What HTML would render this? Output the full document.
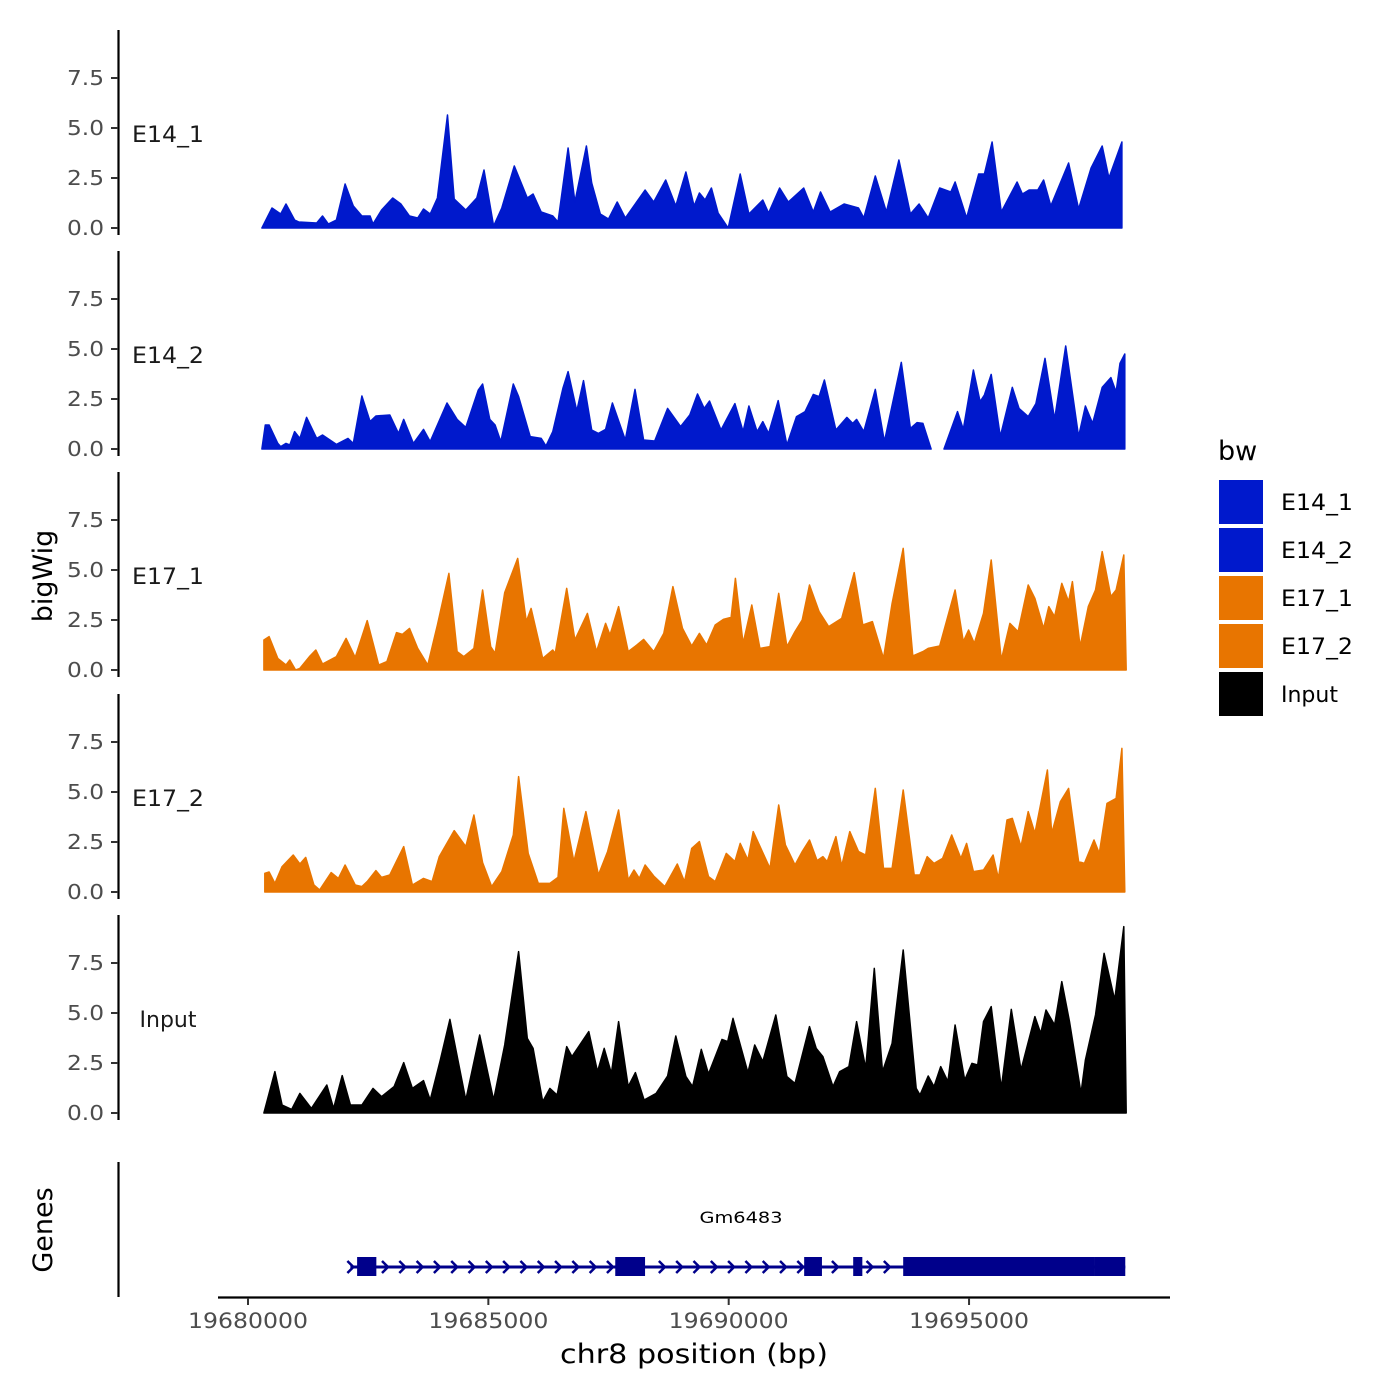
<!DOCTYPE html>
<html><head><meta charset="utf-8"><style>
html,body{margin:0;padding:0;background:#fff;}
svg{display:block;font-family:"DejaVu Sans","Liberation Sans",sans-serif;}
</style></head><body>
<svg id="chart" width="1400" height="1400" viewBox="0 0 1400 1400" xmlns="http://www.w3.org/2000/svg">
<rect width="1400" height="1400" fill="#fff"/>
<g id="tracks"></g>
<g id="genes"></g>
<g id="axes"></g>
<g id="legend"></g>
</svg>
<script>
const NS="http://www.w3.org/2000/svg";
const XMIN=19679376; // left edge of x axis in bp
const KB0=19680000;  // origin for kb position arrays
const trackNames=["E14_1","E14_2","E17_1","E17_2","Input"];
const trackColors=["#0019CC","#0019CC","#E87500","#E87500","#000000"];
const yTicks=[0,2.5,5,7.5];
const yTickLabels=["0.0","2.5","5.0","7.5"];
const xTicks=[19680000,19685000,19690000,19695000];
const xTickLabels=["19680000","19685000","19690000","19695000"];
const legendLabels=["E14_1","E14_2","E17_1","E17_2","Input"];
// positions in kb offset from KB0, values = coverage
const pos1=[0.29,0.50,0.68,0.79,0.97,1.06,1.43,1.55,1.67,1.84,2.02,2.19,2.37,2.54,2.60,2.78,3.01,3.18,3.36,3.53,3.65,3.79,3.94,4.15,4.29,4.53,4.76,4.91,5.11,5.28,5.54,5.81,5.93,6.10,6.34,6.45,6.66,6.80,7.04,7.15,7.33,7.50,7.68,7.85,8.26,8.44,8.69,8.90,9.11,9.28,9.39,9.51,9.64,9.78,9.99,10.24,10.42,10.71,10.83,11.06,11.24,11.56,11.76,11.91,12.11,12.40,12.70,12.81,13.05,13.28,13.54,13.78,13.96,14.15,14.39,14.62,14.71,14.95,15.20,15.32,15.48,15.67,16.00,16.11,16.25,16.43,16.55,16.70,17.07,17.28,17.54,17.77,17.91,18.18];
const val1=[0,1.0,0.7,1.2,0.4,0.3,0.25,0.6,0.2,0.4,2.2,1.1,0.6,0.6,0.2,0.9,1.5,1.2,0.6,0.5,0.95,0.7,1.5,5.65,1.45,0.9,1.5,2.9,0.1,1.0,3.1,1.5,1.7,0.8,0.6,0.3,4.0,1.3,4.1,2.25,0.7,0.45,1.3,0.5,1.9,1.3,2.4,1.1,2.8,1.1,1.75,1.4,2.0,0.75,0,2.7,0.7,1.4,0.75,2.0,1.3,2.0,0.8,1.8,0.8,1.2,1.0,0.5,2.6,0.8,3.4,0.7,1.2,0.5,2.0,1.8,2.3,0.5,2.7,2.7,4.3,0.8,2.3,1.7,1.9,1.9,2.4,1.1,3.25,0.95,3.0,4.1,2.5,4.3];
const pos2=[0.29,0.36,0.44,0.62,0.68,0.79,0.87,0.97,1.08,1.22,1.43,1.55,1.84,2.08,2.19,2.37,2.54,2.66,2.95,3.13,3.24,3.44,3.65,3.79,4.14,4.35,4.53,4.79,4.88,5.03,5.14,5.26,5.52,5.63,5.87,6.10,6.20,6.34,6.55,6.66,6.84,6.98,7.15,7.29,7.44,7.58,7.85,8.05,8.23,8.46,8.73,9.00,9.19,9.35,9.49,9.60,9.84,10.13,10.30,10.42,10.59,10.71,10.83,11.03,11.21,11.41,11.59,11.76,11.88,11.99,12.23,12.46,12.58,12.66,12.81,13.05,13.24,13.59,13.78,13.92,14.04,14.21,14.33,14.48,14.76,14.88,15.09,15.23,15.32,15.46,15.65,15.90,16.04,16.23,16.39,16.58,16.78,17.01,17.28,17.42,17.57,17.77,17.95,18.06,18.14,18.24];
const val2=[0,1.2,1.2,0.28,0.12,0.28,0.2,0.87,0.53,1.58,0.53,0.7,0.23,0.53,0.28,2.65,1.37,1.65,1.7,0.78,1.48,0.28,0.98,0.37,2.3,1.48,1.08,2.95,3.25,1.48,1.2,0.37,3.25,2.62,0.62,0.53,0.15,0.87,3.03,3.87,1.9,3.42,0.95,0.78,0.98,2.3,0.45,2.98,0.45,0.4,2.03,1.12,1.7,2.75,2.03,2.4,0.95,2.27,0.87,2.15,0.87,1.37,0.78,2.42,0.2,1.62,1.87,2.73,2.62,3.45,0.95,1.58,1.28,1.48,0.87,2.98,0.37,4.33,1.03,1.32,1.28,0,null,0,1.87,0.98,3.95,2.37,2.7,3.73,0.62,3.08,2.03,1.62,2.27,4.53,1.48,5.15,0.62,2.15,1.28,3.08,3.57,2.85,4.28,4.75];
const pos3=[0.33,0.33,0.44,0.62,0.79,0.87,0.99,1.08,1.29,1.41,1.55,1.84,2.04,2.23,2.48,2.72,2.89,3.09,3.21,3.36,3.53,3.74,3.94,4.18,4.35,4.49,4.70,4.88,5.05,5.14,5.34,5.61,5.79,5.89,6.13,6.34,6.39,6.63,6.80,7.06,7.25,7.44,7.53,7.71,7.91,8.09,8.23,8.44,8.65,8.84,9.04,9.23,9.39,9.54,9.72,9.89,10.05,10.14,10.30,10.48,10.65,10.86,11.04,11.21,11.38,11.53,11.68,11.88,12.08,12.35,12.61,12.79,12.99,13.22,13.40,13.63,13.83,14.04,14.15,14.39,14.71,14.88,14.99,15.11,15.30,15.46,15.67,15.85,16.02,16.23,16.37,16.55,16.66,16.78,16.93,17.07,17.15,17.31,17.48,17.63,17.77,17.95,18.06,18.22,18.27];
const val3=[0,1.5,1.67,0.58,0.25,0.5,0,0.08,0.7,1.0,0.3,0.67,1.58,0.63,2.47,0.25,0.42,1.87,1.78,2.08,1.08,0.25,2.25,4.83,0.92,0.67,1.08,4.0,1.17,0.83,3.87,5.58,2.42,3.08,0.58,1.0,0.83,4.08,1.5,2.83,0.92,2.33,1.75,3.17,0.92,1.25,1.53,0.92,1.83,4.17,2.08,1.2,1.83,1.25,2.25,2.53,2.63,4.58,1.33,3.25,1.08,1.17,3.83,1.17,1.92,2.5,4.25,2.92,2.17,2.58,4.87,2.25,2.42,0.58,3.33,6.08,0.7,0.92,1.08,1.2,4.0,1.42,2.0,1.33,2.83,5.5,0.5,2.33,1.92,4.25,3.58,2.08,3.17,2.67,4.33,3.42,4.42,1.17,3.17,4.0,5.92,3.67,4.0,5.75,0];
const pos4=[0.35,0.35,0.44,0.56,0.71,0.94,1.08,1.20,1.37,1.49,1.73,1.88,2.02,2.23,2.37,2.48,2.66,2.78,2.95,3.24,3.42,3.65,3.83,3.98,4.29,4.53,4.70,4.88,5.07,5.28,5.52,5.63,5.83,6.04,6.28,6.45,6.57,6.78,7.03,7.29,7.48,7.71,7.91,8.03,8.14,8.26,8.44,8.67,8.93,9.08,9.23,9.39,9.58,9.72,9.95,10.13,10.24,10.40,10.51,10.86,11.04,11.18,11.38,11.53,11.68,11.84,11.96,12.05,12.23,12.35,12.52,12.70,12.85,13.05,13.22,13.40,13.63,13.86,13.98,14.13,14.27,14.45,14.64,14.83,14.95,15.09,15.30,15.50,15.61,15.79,15.90,16.08,16.23,16.37,16.63,16.72,16.90,17.07,17.28,17.40,17.60,17.71,17.87,18.06,18.18,18.24];
const val4=[0,0.93,1.0,0.43,1.27,1.85,1.4,1.73,0.35,0.1,0.97,0.68,1.35,0.35,0.27,0.52,1.07,0.73,0.85,2.27,0.35,0.68,0.52,1.77,3.07,2.27,3.85,1.47,0.27,1.02,2.85,5.77,1.93,0.43,0.43,0.73,4.18,1.52,4.02,0.85,2.02,4.1,0.6,1.1,0.68,1.35,0.8,0.27,1.4,0.52,2.18,2.52,0.77,0.52,1.93,1.52,2.43,1.6,3.02,1.18,4.35,2.35,1.35,2.02,2.6,1.57,1.77,1.52,2.77,1.3,3.02,2.02,1.85,5.18,1.18,1.18,5.1,0.85,0.85,1.77,1.43,1.68,2.85,1.68,2.43,1.02,1.1,1.85,0.68,3.6,3.68,2.27,4.02,2.93,6.1,2.93,4.52,5.18,1.52,1.43,2.6,1.93,4.43,4.68,7.18,0];
const pos5=[0.33,0.56,0.71,0.91,1.08,1.32,1.64,1.78,1.96,2.13,2.37,2.60,2.78,3.04,3.24,3.42,3.65,3.79,4.00,4.20,4.53,4.82,5.11,5.34,5.63,5.81,5.93,6.13,6.28,6.43,6.63,6.74,7.09,7.27,7.41,7.56,7.71,7.91,8.06,8.24,8.49,8.73,8.90,9.11,9.25,9.43,9.58,9.86,9.98,10.09,10.40,10.54,10.71,10.98,11.21,11.38,11.68,11.82,11.96,12.17,12.31,12.50,12.66,12.85,13.03,13.20,13.40,13.63,13.90,13.98,14.15,14.27,14.41,14.56,14.71,14.91,15.06,15.18,15.30,15.46,15.67,15.88,16.08,16.37,16.49,16.60,16.78,16.93,17.09,17.33,17.42,17.63,17.81,18.03,18.22,18.27];
const val5=[0,2.07,0.4,0.18,0.98,0.23,1.4,0.23,1.87,0.4,0.4,1.23,0.82,1.32,2.52,1.23,1.62,0.65,2.65,4.68,0.65,3.9,0.65,3.4,8.07,3.73,3.23,0.57,1.23,0.9,3.32,2.82,4.07,2.07,3.23,1.98,4.57,1.32,2.02,0.65,0.98,1.85,3.85,1.82,1.32,3.18,1.95,3.68,3.57,4.73,2.02,3.4,2.57,4.9,1.82,1.48,4.32,3.23,2.82,1.32,2.07,2.32,4.57,2.23,7.23,2.07,3.48,8.15,1.23,0.9,1.85,1.32,2.32,1.57,4.4,1.65,2.48,2.4,4.57,5.32,1.23,5.18,2.15,4.82,3.98,5.15,4.4,6.57,4.57,0.98,2.65,4.9,7.98,5.65,9.32,0];
const trackPos=[pos1,pos2,pos3,pos4,pos5];
const trackVal=[val1,val2,val3,val4,val5];
// gene model (kb offsets from KB0)
const geneStart=2.13, geneEnd=18.25;
const exonStart=[2.27,7.64,11.57,12.59,13.63,17.60];
const exonEnd=[2.67,8.26,11.94,12.78,17.60,18.25];
const geneName="Gm6483";

const PXBP=0.04807;
function xs(bp){return 218+(bp-XMIN)*PXBP;}
function xk(kb){return xs(KB0+kb*1000);}
const zeroY=[228,449,670,892,1113];
const PXU=20;
function ys(i,v){return zeroY[i]-v*PXU;}
function mk(tag,attrs,parent){const e=document.createElementNS(NS,tag);for(const k in attrs)e.setAttribute(k,attrs[k]);parent.appendChild(e);return e;}
const tracks=document.getElementById('tracks');
const axes=document.getElementById('axes');
const genes=document.getElementById('genes');
const legend=document.getElementById('legend');

trackNames.forEach((nm,i)=>{
  const P=trackPos[i],V=trackVal[i];
  let segs=[],cur=[];
  for(let j=0;j<P.length;j++){ if(V[j]===null){if(cur.length)segs.push(cur);cur=[];} else cur.push([P[j],V[j]]); }
  if(cur.length)segs.push(cur);
  segs.forEach(s=>{
    let d="M"+xk(s[0][0]).toFixed(1)+","+zeroY[i];
    s.forEach(p=>{d+=" L"+xk(p[0]).toFixed(1)+","+ys(i,p[1]).toFixed(1);});
    d+=" L"+xk(s[s.length-1][0]).toFixed(1)+","+zeroY[i]+" Z";
    const a=mk('path',{d:d,fill:trackColors[i],'stroke':trackColors[i],'stroke-width':1.5,'stroke-linejoin':'round'},tracks);
    
    
  });
  const top=zeroY[i]-198, bot=zeroY[i]+7;
  const ax=mk('line',{x1:118.5,x2:118.5,y1:top,y2:bot,stroke:'#000','stroke-width':2.2},axes);
  
  
  yTicks.forEach((t,k)=>{
    const y=ys(i,t);
    mk('line',{x1:111,x2:118,y1:y,y2:y,stroke:'#333','stroke-width':2},axes);
    const tl=mk('text',{x:104,y:y+7,'text-anchor':'end','font-size':20,fill:'#4d4d4d',textLength:37,lengthAdjust:'spacingAndGlyphs'},axes);
    tl.textContent=yTickLabels[k];
    
    
  });
  const lab=mk('text',{x:168,y:zeroY[i]-86,'text-anchor':'middle','font-size':22,fill:'#1a1a1a'},axes);
  if(nm!=="Input"){lab.setAttribute('textLength',72);lab.setAttribute('lengthAdjust','spacingAndGlyphs');}
  lab.textContent=nm;
  
  
});

const yt=mk('text',{x:0,y:0,'text-anchor':'middle','font-size':27,fill:'#000',transform:'translate(52,576) rotate(-90)'},axes);
yt.textContent="bigWig";



const ga=mk('line',{x1:118.5,x2:118.5,y1:1162,y2:1297,stroke:'#000','stroke-width':2.2},axes);


const gt=mk('text',{x:0,y:0,'text-anchor':'middle','font-size':27,fill:'#000',transform:'translate(52,1230) rotate(-90)'},axes);
gt.textContent="Genes";


const gl=mk('line',{x1:xk(geneStart),x2:xk(geneEnd),y1:1267,y2:1267,stroke:'#00008B','stroke-width':3},genes);


for(let kb=geneStart;kb<geneEnd;kb+=0.36){
  const x=xk(kb);
  let inEx=false; exonStart.forEach((s,k)=>{if(kb>=s-0.05&&kb<=exonEnd[k]+0.05)inEx=true;});
  if(inEx && kb>geneStart+0.01) continue;
  const c=mk('path',{d:`M${x-3},${1261} L${x+3},${1267} L${x-3},${1273}`,fill:'none',stroke:'#00008B','stroke-width':2.5},genes);
  
  
}
exonStart.forEach((s,k)=>{
  const r=mk('rect',{x:xk(s),y:1257,width:xk(exonEnd[k])-xk(s),height:19,fill:'#00008B'},genes);
  
  
});
const gn=mk('text',{x:741,y:1223,'text-anchor':'middle','font-size':16,fill:'#000',textLength:83,lengthAdjust:'spacingAndGlyphs'},genes);
gn.textContent=geneName;



const xa=mk('line',{x1:218,x2:1170,y1:1297.5,y2:1297.5,stroke:'#000','stroke-width':2.2},axes);


xTicks.forEach((t,k)=>{
  const x=xs(t);
  mk('line',{x1:x,x2:x,y1:1298,y2:1305,stroke:'#333','stroke-width':2},axes);
  const tl=mk('text',{x:x,y:1328,'text-anchor':'middle','font-size':21,fill:'#4d4d4d',textLength:120,lengthAdjust:'spacingAndGlyphs'},axes);
  tl.textContent=xTickLabels[k];
  
  
});
const xt=mk('text',{x:694,y:1363,'text-anchor':'middle','font-size':27,fill:'#000',textLength:268,lengthAdjust:'spacingAndGlyphs'},axes);
xt.textContent="chr8 position (bp)";



const lt=mk('text',{x:1218,y:460,'font-size':27,fill:'#000'},legend);
lt.textContent="bw";


legendLabels.forEach((l,k)=>{
  const y=480+k*48;
  const r=mk('rect',{x:1219,y:y,width:44,height:44,fill:trackColors[k]},legend);
  
  
  const t=mk('text',{x:1281,y:y+30,'font-size':22,fill:'#000'},legend);
  if(l!=="Input"){t.setAttribute('textLength',72);t.setAttribute('lengthAdjust','spacingAndGlyphs');}
  t.textContent=l;
  
  
});
</script>
</body></html>
